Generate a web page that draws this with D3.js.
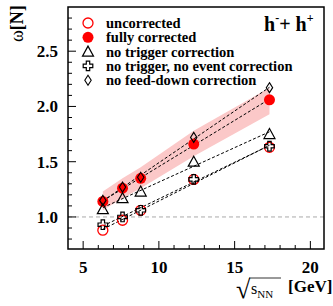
<!DOCTYPE html>
<html>
<head>
<meta charset="utf-8">
<script src="https://cdn.jsdelivr.net/npm/d3@7"></script>
<style>
  body { margin: 0; background: #fff; }
  svg text { font-family: "Liberation Serif", "Times New Roman", serif; }
</style>
</head>
<body>
<div id="chart"></div>
<script>
// sqrt(s_NN) energies in GeV
var energies = [6.3, 7.6, 8.8, 12.3, 17.3];

// omega[N] values
var uncorrected   = [0.88, 0.97, 1.06, 1.34, 1.63];
var fullyCorr     = [1.14, 1.26, 1.35, 1.66, 2.06];
var noTrigger     = [1.07, 1.17, 1.23, 1.50, 1.75];
var noTrigNoEvent = [0.93, 1.00, 1.06, 1.34, 1.64];
var noFeedDown    = [1.15, 1.27, 1.36, 1.72, 2.17];

// systematic band of the fully corrected points
var bandLow  = [1.06, 1.17, 1.26, 1.55, 1.93];
var bandHigh = [1.23, 1.35, 1.45, 1.78, 2.17];

var xTicks = [5, 10, 15, 20];
var yTicks = [1.0, 1.5, 2.0, 2.5];

var legendLabels = [
    'uncorrected',
    'fully corrected',
    'no trigger correction',
    'no trigger, no event correction',
    'no feed-down correction'
];

(function () {
    var W = 333, H = 306;
    var m = {left: 68, top: 7, right: 9, bottom: 57};
    var w = W - m.left - m.right,
        h = H - m.top - m.bottom;

    var svg = d3.select('#chart').append('svg')
        .attr('width', W).attr('height', H);
    var g = svg.append('g').attr('transform', 'translate(' + m.left + ',' + m.top + ')');

    var x = d3.scaleLinear().domain([4, 20.9]).range([0, w]);
    var y = d3.scaleLinear().domain([0.71, 2.9]).range([h, 0]);

    // reference line at 1
    g.append('line')
        .attr('x1', 0).attr('x2', w)
        .attr('y1', y(1)).attr('y2', y(1))
        .attr('stroke', '#aaa').attr('stroke-width', 1)
        .attr('stroke-dasharray', '4,3');

    // pink band
    var band = d3.area()
        .x(function (d, i) { return x(energies[i]); })
        .y0(function (d, i) { return y(bandLow[i]); })
        .y1(function (d, i) { return y(bandHigh[i]); });
    g.append('path')
        .attr('d', band(energies))
        .attr('fill', '#fbc8c8');

    // linear fit lines
    function fit(vals) {
        var n = vals.length,
            mx = d3.mean(energies), my = d3.mean(vals),
            sxy = 0, sxx = 0;
        for (var i = 0; i < n; i++) {
            sxy += (energies[i] - mx) * (vals[i] - my);
            sxx += (energies[i] - mx) * (energies[i] - mx);
        }
        var b = sxy / sxx;
        return function (e) { return my + b * (e - mx); };
    }
    var series = [uncorrected, fullyCorr, noTrigger, noTrigNoEvent, noFeedDown];
    var x0 = d3.min(energies), x1 = d3.max(energies);
    series.forEach(function (s) {
        var f = fit(s);
        g.append('line')
            .attr('x1', x(x0)).attr('y1', y(f(x0)))
            .attr('x2', x(x1)).attr('y2', y(f(x1)))
            .attr('stroke', '#000').attr('stroke-width', 1)
            .attr('stroke-dasharray', '3,2');
    });

    // marker shapes
    function marker(sel, kind) {
        if (kind === 0) {
            sel.append('circle').attr('r', 5)
                .attr('fill', 'none').attr('stroke', '#f00').attr('stroke-width', 1.3);
        } else if (kind === 1) {
            sel.append('circle').attr('r', 5.5).attr('fill', '#f00');
        } else if (kind === 2) {
            sel.append('path').attr('d', 'M0,-5.5 L5.5,4.5 L-5.5,4.5 Z')
                .attr('fill', 'none').attr('stroke', '#000').attr('stroke-width', 1.2);
        } else if (kind === 3) {
            sel.append('path')
                .attr('d', 'M-1.7,-4.8 H1.7 V-1.7 H4.8 V1.7 H1.7 V4.8 H-1.7 V1.7 H-4.8 V-1.7 H-1.7 Z')
                .attr('fill', 'none').attr('stroke', '#000').attr('stroke-width', 1.2);
        } else {
            sel.append('path').attr('d', 'M0,-5 L3.2,0 L0,5 L-3.2,0 Z')
                .attr('fill', 'none').attr('stroke', '#000').attr('stroke-width', 1.1);
        }
    }

    var drawOrder = [1, 0, 2, 3, 4];
    drawOrder.forEach(function (k) {
        series[k].forEach(function (v, i) {
            var p = g.append('g')
                .attr('transform', 'translate(' + x(energies[i]) + ',' + y(v) + ')');
            marker(p, k);
        });
    });

    // frame
    g.append('rect').attr('width', w).attr('height', h)
        .attr('fill', 'none').attr('stroke', '#000').attr('stroke-width', 1.5);

    // ticks inside
    d3.range(5, 21, 1).forEach(function (t) {
        var len = t % 5 === 0 ? 8 : 4;
        g.append('line').attr('x1', x(t)).attr('x2', x(t))
            .attr('y1', h).attr('y2', h - len)
            .attr('stroke', '#000').attr('stroke-width', 1);
    });
    d3.range(8, 29, 1).forEach(function (t) {
        var v = t / 10;
        var len = t % 5 === 0 ? 8 : 4;
        g.append('line').attr('x1', 0).attr('x2', len)
            .attr('y1', y(v)).attr('y2', y(v))
            .attr('stroke', '#000').attr('stroke-width', 1);
    });

    xTicks.forEach(function (t) {
        g.append('text').attr('x', x(t)).attr('y', h + 24)
            .attr('text-anchor', 'middle')
            .attr('font-size', 17).attr('font-weight', 'bold')
            .text(t);
    });
    yTicks.forEach(function (t) {
        g.append('text').attr('x', -10).attr('y', y(t) + 6)
            .attr('text-anchor', 'end')
            .attr('font-size', 17).attr('font-weight', 'bold')
            .text(t.toFixed(1));
    });

    // y label
    var yl = svg.append('text')
        .attr('transform', 'translate(23,42) rotate(-90)')
        .attr('font-size', 18);
    yl.append('tspan').text('ω');
    yl.append('tspan').attr('font-weight', 'bold').text('[N]');

    // x label
    var xl = svg.append('g').attr('transform', 'translate(236,298)');
    xl.append('text').attr('x', 0).attr('y', 0)
        .attr('font-size', 26).text('√');
    xl.append('line').attr('x1', 13).attr('x2', 45)
        .attr('y1', -20).attr('y2', -20)
        .attr('stroke', '#000').attr('stroke-width', 0.8);
    var sx = xl.append('text').attr('x', 15).attr('y', -4).attr('font-size', 16);
    sx.append('tspan').text('s');
    sx.append('tspan').attr('font-size', 11).attr('dy', 4).text('NN');
    xl.append('text').attr('x', 52).attr('y', -6)
        .attr('font-size', 17).attr('font-weight', 'bold').text('[GeV]');

    // legend
    legendLabels.forEach(function (lab, i) {
        var ly = 23 + i * 14.3;
        var p = svg.append('g').attr('transform', 'translate(88,' + ly + ')');
        marker(p, i);
        svg.append('text').attr('x', 106).attr('y', ly + 5)
            .attr('font-size', 14.5).attr('font-weight', 'bold')
            .text(lab);
    });

    // system label
    var sys = svg.append('text').attr('x', 264).attr('y', 31)
        .attr('font-size', 20).attr('font-weight', 'bold');
    sys.append('tspan').text('h');
    sys.append('tspan').attr('font-size', 12).attr('dy', -9).text('-');
    sys.append('tspan').attr('dy', 9).text('+ h');
    sys.append('tspan').attr('font-size', 12).attr('dy', -9).text('+');
})();
</script>
</body>
</html>
